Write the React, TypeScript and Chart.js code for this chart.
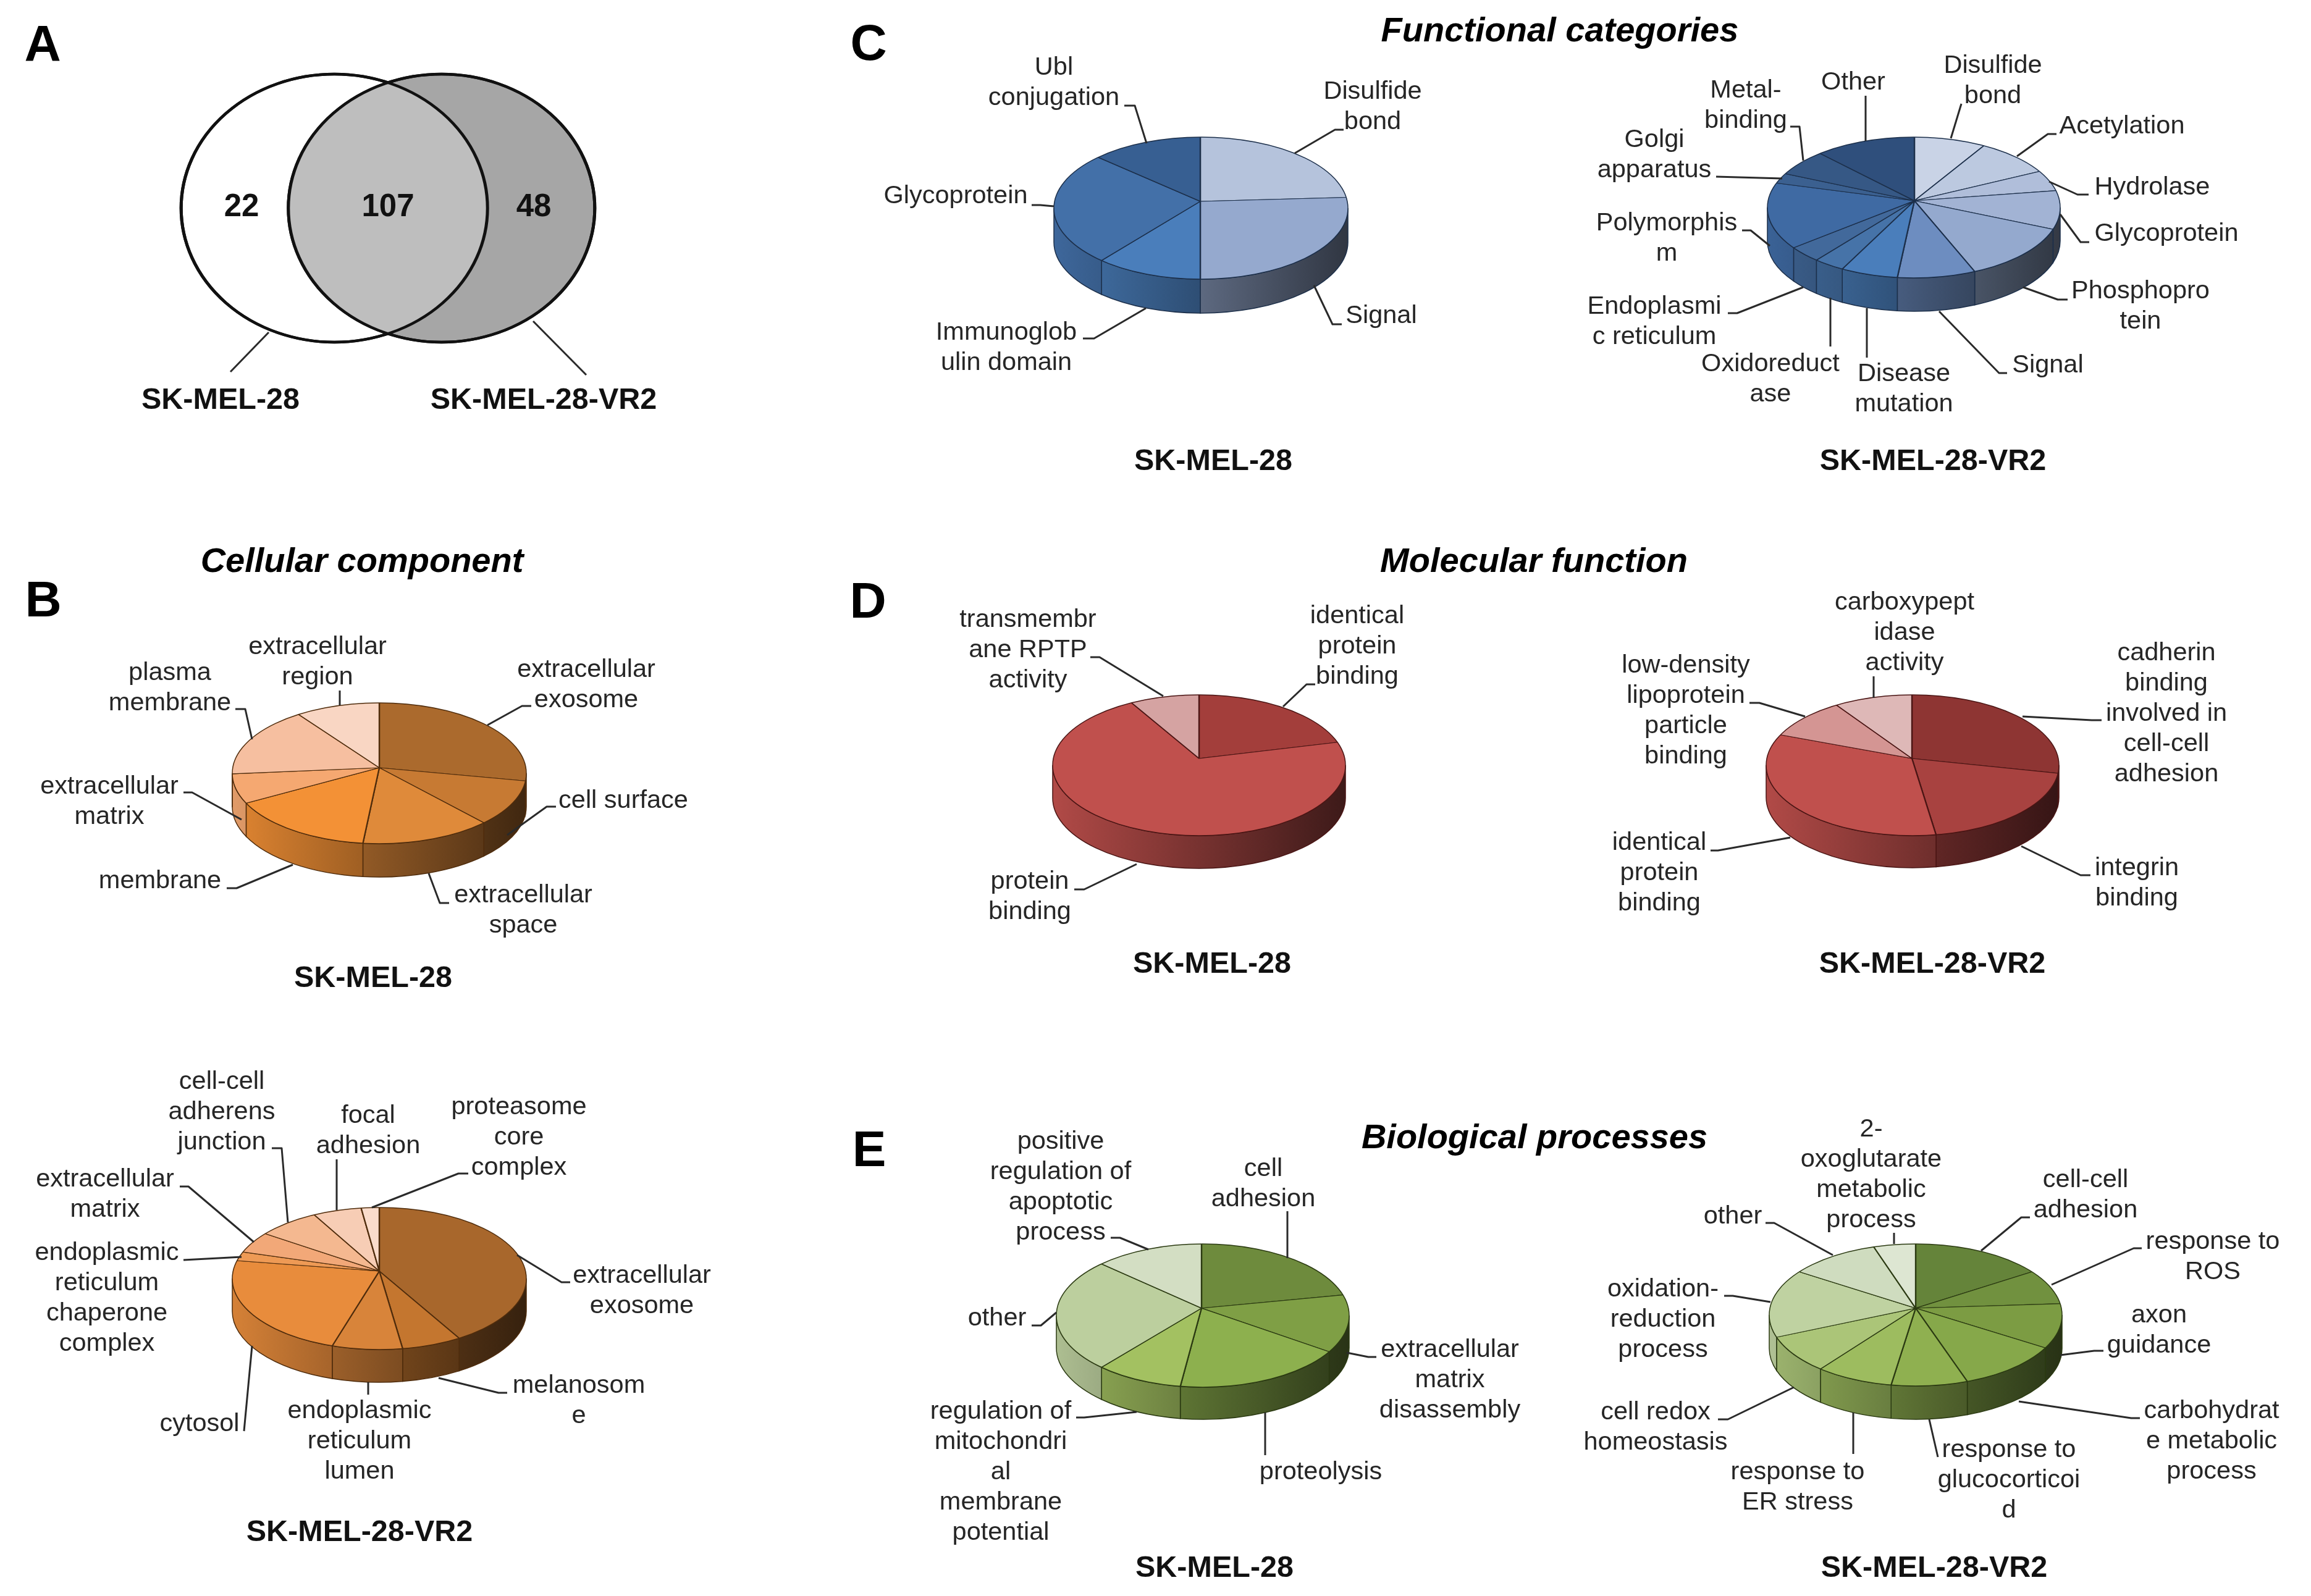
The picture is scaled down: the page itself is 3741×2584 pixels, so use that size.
import React, { useEffect, useRef } from "react";
import { Chart, registerables } from "chart.js";

Chart.register(...registerables);

/* ---------- data ---------- */
const vennCounts = ["22", "107", "48"];
const vennSets = ["SK-MEL-28", "SK-MEL-28-VR2"];

const ccParentLabels = ["extracellular\nexosome", "cell surface", "extracellular\nspace", "membrane", "extracellular\nmatrix", "plasma\nmembrane", "extracellular\nregion"];
const ccParentValues = [28.0, 10.3, 13.4, 15.3, 6.7, 16.4, 10.0];

const ccResistantLabels = ["extracellular\nexosome", "melanosom\ne", "endoplasmic\nreticulum\nlumen", "cytosol", "endoplasmic\nreticulum\nchaperone\ncomplex", "extracellular\nmatrix", "cell-cell\nadherens\njunction", "focal\nadhesion", "proteasome\ncore\ncomplex"];
const ccResistantValues = [41.7, 6.0, 7.0, 22.7, 2.1, 5.0, 7.4, 5.9, 2.2];

const fcParentLabels = ["Disulfide\nbond", "Signal", "Immunoglob\nulin domain", "Glycoprotein", "Ubl\nconjugation"];
const fcParentValues = [24.1, 25.9, 10.8, 25.8, 13.4];

const fcResistantLabels = ["Disulfide\nbond", "Acetylation", "Hydrolase", "Glycoprotein", "Phosphopro\ntein", "Signal", "Disease\nmutation", "Oxidoreduct\nase", "Endoplasmi\nc reticulum", "Polymorphis\nm", "Golgi\napparatus", "Metal-\nbinding", "Other"];
const fcResistantValues = [8.7, 9.1, 4.9, 8.8, 12.4, 7.9, 5.8, 3.2, 3.5, 15.0, 2.4, 6.3, 12.2];

const mfParentLabels = ["identical\nprotein\nbinding", "protein\nbinding", "transmembr\nane RPTP\nactivity"];
const mfParentValues = [21.2, 70.4, 8.4];

const mfResistantLabels = ["cadherin\nbinding\ninvolved in\ncell-cell\nadhesion", "integrin\nbinding", "identical\nprotein\nbinding", "low-density\nlipoprotein\nparticle\nbinding", "carboxypept\nidase\nactivity"];
const mfResistantValues = [28.3, 19.3, 33.1, 9.8, 9.5];

const bpParentLabels = ["cell\nadhesion", "extracellular\nmatrix\ndisassembly", "proteolysis", "regulation of\nmitochondri\nal\nmembrane\npotential", "other", "positive\nregulation of\napoptotic\nprocess"];
const bpParentValues = [22.0, 12.7, 17.4, 8.9, 25.7, 13.3];

const bpResistantLabels = ["cell-cell\nadhesion", "response to\nROS", "axon\nguidance", "carbohydrat\ne metabolic\nprocess", "response to\nglucocorticoi\nd", "response to\nER stress", "cell redox\nhomeostasis", "oxidation-\nreduction\nprocess", "other", "2-\noxoglutarate\nmetabolic\nprocess"];
const bpResistantValues = [15.9, 8.1, 10.0, 10.8, 7.7, 7.9, 8.2, 15.6, 10.8, 5.1];

/* ---------- styles and layout ---------- */
const FONT = '"Liberation Sans", Arial, sans-serif';
const LABEL_PX = 41.5;
const LINE_GAP = 49;
const TEXT_COLOR = "#262626";
const LEADER = "#2a2a2a";

type Pt = [number, number];
type Geometry = { cx: number; cy: number; rx: number; ry: number; ax: number; ay: number; depth: number };
type PieSpec = {
  geo: Geometry;
  labels: string[];
  values: number[];
  colors: string[];
  edge: string;
  anchors: Pt[];
  leaders: Pt[][];
};

const PIES: PieSpec[] = [
  {
    geo: { cx: 614, cy: 1252, rx: 238, ry: 114, ax: 614, ay: 1243, depth: 54 },
    labels: ccParentLabels,
    values: ccParentValues,
    colors: ["#AB6A2D", "#C77A33", "#DF8A3A", "#F39136", "#F5A871", "#F6BFA0", "#F9D6C3"],
    edge: "#4f2c0c",
    anchors: [[949, 1082], [1009, 1294], [847, 1447], [259, 1424], [177, 1271], [275, 1087], [514, 1045]],
    leaders: [
      [[789, 1174], [845, 1143], [860, 1143]],
      [[821, 1352], [885, 1306], [900, 1306]],
      [[694, 1414], [712, 1462], [727, 1462]],
      [[474, 1400], [383, 1438], [367, 1438]],
      [[391, 1327], [311, 1283], [297, 1283]],
      [[408, 1197], [397, 1148], [381, 1148]],
      [[550, 1142], [550, 1118]],
    ],
  },
  {
    geo: { cx: 614, cy: 2070, rx: 238, ry: 115, ax: 614, ay: 2058, depth: 53 },
    labels: ccResistantLabels,
    values: ccResistantValues,
    colors: ["#A8672C", "#C4762F", "#D8843A", "#E88C3C", "#EE9A55", "#F2A878", "#F4B890", "#F7CDB5", "#FADCCB"],
    edge: "#4f2c0c",
    anchors: [[1039, 2063], [937, 2241], [582, 2282], [323, 2303], [173, 2026], [170, 1907], [359, 1749], [596, 1804], [840, 1790]],
    leaders: [
      [[837, 2032], [909, 2076], [923, 2076]],
      [[710, 2231], [807, 2255], [821, 2255]],
      [[596, 2238], [596, 2258]],
      [[408, 2179], [395, 2317]],
      [[391, 2035], [297, 2040]],
      [[411, 2011], [305, 1921], [291, 1921]],
      [[466, 1979], [456, 1859], [440, 1859]],
      [[545, 1959], [545, 1877]],
      [[602, 1955], [742, 1900], [758, 1900]],
    ],
  },
  {
    geo: { cx: 1944, cy: 337, rx: 238, ry: 115, ax: 1943, ay: 326, depth: 55 },
    labels: fcParentLabels,
    values: fcParentValues,
    colors: ["#B5C3DC", "#95A9CE", "#4A7EBB", "#4370A8", "#375F92"],
    edge: "#1c2f4a",
    anchors: [[2222, 146], [2236, 509], [1629, 536], [1547, 315], [1706, 107]],
    leaders: [
      [[2096, 248], [2161, 210], [2175, 210]],
      [[2127, 462], [2157, 525], [2172, 525]],
      [[1855, 499], [1771, 548], [1753, 548]],
      [[1706, 334], [1684, 332], [1670, 332]],
      [[1856, 232], [1837, 171], [1820, 171]],
    ],
  },
  {
    geo: { cx: 3098, cy: 336, rx: 237, ry: 114, ax: 3099, ay: 325, depth: 54 },
    labels: fcResistantLabels,
    values: fcResistantValues,
    colors: ["#C9D3E6", "#BCC9E0", "#B0BEDA", "#A2B3D4", "#94A9CE", "#6D8DC0", "#4A7EBB", "#4673A8", "#42699B", "#3F6AA3", "#3B6090", "#365885", "#2F4F7C"],
    edge: "#1c2f4a",
    anchors: [[3226, 104], [3435, 202], [3484, 301], [3507, 376], [3465, 469], [3315, 589], [3082, 603], [2866, 587], [2678, 494], [2698, 359], [2678, 224], [2826, 144], [3000, 131]],
    leaders: [
      [[3158, 224], [3175, 168]],
      [[3265, 253], [3315, 217], [3329, 217]],
      [[3317, 294], [3363, 315], [3381, 315]],
      [[3335, 347], [3368, 392], [3382, 392]],
      [[3275, 465], [3331, 485], [3347, 485]],
      [[3139, 504], [3236, 604], [3249, 604]],
      [[3022, 499], [3022, 579]],
      [[2963, 482], [2963, 561]],
      [[2919, 465], [2812, 507], [2797, 507]],
      [[2865, 398], [2834, 373], [2820, 373]],
      [[2885, 289], [2778, 286]],
      [[2919, 260], [2913, 205], [2898, 205]],
      [[3020, 228], [3020, 155]],
    ],
  },
  {
    geo: { cx: 1941, cy: 1239, rx: 237, ry: 114, ax: 1941, ay: 1228, depth: 53 },
    labels: mfParentLabels,
    values: mfParentValues,
    colors: ["#A33E3B", "#C0504D", "#D5A3A2"],
    edge: "#4a1514",
    anchors: [[2197, 995], [1667, 1425], [1664, 1001]],
    leaders: [
      [[2077, 1144], [2115, 1108], [2129, 1108]],
      [[1840, 1399], [1755, 1440], [1739, 1440]],
      [[1883, 1127], [1780, 1064], [1765, 1064]],
    ],
  },
  {
    geo: { cx: 3096, cy: 1239, rx: 237, ry: 114, ax: 3095, ay: 1228, depth: 52 },
    labels: mfResistantLabels,
    values: mfResistantValues,
    colors: ["#8E3533", "#A84240", "#C0504D", "#D49593", "#DEB8B7"],
    edge: "#4a1514",
    anchors: [[3507, 1055], [3459, 1403], [2686, 1362], [2729, 1075], [3083, 973]],
    leaders: [
      [[3274, 1160], [3386, 1166], [3402, 1166]],
      [[3272, 1370], [3368, 1417], [3384, 1417]],
      [[2898, 1356], [2781, 1377], [2769, 1377]],
      [[2922, 1160], [2848, 1138], [2832, 1138]],
      [[3033, 1130], [3033, 1095]],
    ],
  },
  {
    geo: { cx: 1947, cy: 2130, rx: 237, ry: 116, ax: 1945, ay: 2118, depth: 52 },
    labels: bpParentLabels,
    values: bpParentValues,
    colors: ["#6E8B3D", "#7F9F45", "#8DB04E", "#A3C161", "#BCCF9E", "#D3DEC3"],
    edge: "#2b3a12",
    anchors: [[2045, 1890], [2347, 2183], [2138, 2381], [1620, 2283], [1614, 2132], [1717, 1846]],
    leaders: [
      [[2084, 2037], [2084, 1961]],
      [[2180, 2190], [2215, 2197], [2228, 2197]],
      [[2048, 2287], [2048, 2356]],
      [[1840, 2286], [1755, 2295], [1742, 2295]],
      [[1710, 2125], [1685, 2146], [1670, 2146]],
      [[1859, 2023], [1813, 2004], [1798, 2004]],
    ],
  },
  {
    geo: { cx: 3101, cy: 2129, rx: 237, ry: 115, ax: 3101, ay: 2118, depth: 54 },
    labels: bpResistantLabels,
    values: bpResistantValues,
    colors: ["#65843A", "#71913F", "#7C9C43", "#86A84A", "#8FB050", "#9DBC5F", "#ABC578", "#BFD2A1", "#CFDCBF", "#DDE6D2"],
    edge: "#2b3a12",
    anchors: [[3376, 1908], [3582, 2008], [3495, 2127], [3580, 2282], [3252, 2345], [2910, 2381], [2680, 2284], [2692, 2085], [2805, 1967], [3029, 1826]],
    leaders: [
      [[3207, 2025], [3272, 1971], [3286, 1971]],
      [[3321, 2080], [3454, 2021], [3467, 2021]],
      [[3335, 2194], [3390, 2187], [3405, 2187]],
      [[3268, 2269], [3450, 2296], [3464, 2296]],
      [[3123, 2298], [3137, 2359]],
      [[3000, 2287], [3000, 2354]],
      [[2904, 2246], [2797, 2298], [2781, 2298]],
      [[2866, 2108], [2805, 2098], [2791, 2098]],
      [[2967, 2032], [2872, 1980], [2858, 1980]],
      [[3066, 2014], [3066, 1996]],
    ],
  },
];

const PANEL_LETTERS: [string, number, number][] = [
  ["A", 69, 70], ["B", 70, 970], ["C", 1406, 69], ["D", 1405, 972], ["E", 1407, 1860],
];
const TITLES: [string, number, number][] = [
  ["Cellular component", 586, 907],
  ["Functional categories", 2525, 48],
  ["Molecular function", 2483, 907],
  ["Biological processes", 2484, 1840],
];
const SUBTITLES: [string, number, number][] = [
  [vennSets[0], 357, 645], [vennSets[1], 880, 645],
  [vennSets[0], 604, 1581], [vennSets[1], 582, 2478],
  [vennSets[0], 1964, 744], [vennSets[1], 3129, 744],
  [vennSets[0], 1962, 1558], [vennSets[1], 3128, 1558],
  [vennSets[0], 1966, 2536], [vennSets[1], 3131, 2536],
];
const VENN_COUNT_POS: Pt[] = [[391, 332], [628, 332], [864, 332]];

// Venn canvas frame
const VENN_BOX = { left: 250, top: 0, width: 800, height: 674 };
const vennX = [0.364, 0.581];
const vennY = [0.5, 0.5];
const vennR = [248, 248];
const VENN_SQUASH = 217 / 248;
const vennLeaders: Pt[][] = [[[435, 538], [373, 602]], [[863, 520], [949, 607]]];

/* ---------- helpers ---------- */
function shade(hex: string, f: number) {
  const n = parseInt(hex.slice(1), 16);
  const c = [(n >> 16) & 255, (n >> 8) & 255, n & 255].map((v) => Math.round(v * f));
  return `rgb(${c[0]},${c[1]},${c[2]})`;
}

function strokeLeaders(ctx: CanvasRenderingContext2D, leaders: Pt[][], left: number, top: number) {
  ctx.save();
  ctx.strokeStyle = LEADER;
  ctx.lineWidth = 3;
  ctx.lineJoin = "round";
  leaders.forEach((line) => {
    ctx.beginPath();
    line.forEach(([x, y], i) => (i ? ctx.lineTo(x - left, y - top) : ctx.moveTo(x - left, y - top)));
    ctx.stroke();
  });
  ctx.restore();
}

const BOX_W = 1100;
const BOX_H = 900;

function Pie3D({ spec }: { spec: PieSpec }) {
  const ref = useRef<HTMLCanvasElement>(null);
  const left = spec.geo.ax - BOX_W / 2;
  const top = spec.geo.ay - BOX_H / 2;
  useEffect(() => {
    const g = spec.geo;
    const cx = g.cx - left;
    const cy = g.cy - top;
    const ax = g.ax - left;
    const ay = g.ay - top;
    const k = g.ry / g.rx;

    const rimParam = (angle: number) => {
      const dx = Math.cos(angle);
      const dy = k * Math.sin(angle);
      const ox = (ax - cx) / g.rx;
      const oy = (ay - cy) / g.ry;
      const px = dx / g.rx;
      const py = dy / g.ry;
      const A = px * px + py * py;
      const B = 2 * (ox * px + oy * py);
      const C = ox * ox + oy * oy - 1;
      const t = (-B + Math.sqrt(B * B - 4 * A * C)) / (2 * A);
      return Math.atan2(oy + t * py, ox + t * px);
    };

    const plugin = {
      id: "pie3d",
      beforeDatasetsDraw(chart: any) {
        const ctx: CanvasRenderingContext2D = chart.ctx;
        const arcs = chart.getDatasetMeta(0).data;
        arcs.forEach((arc: any, i: number) => {
          let t1 = rimParam(arc.startAngle);
          let t2 = rimParam(arc.endAngle);
          if (t1 < 0) t1 += Math.PI * 2;
          while (t2 <= t1) t2 += Math.PI * 2;
          [[0, Math.PI], [Math.PI * 2, Math.PI * 3]].forEach(([lo, hi]) => {
            const a = Math.max(t1, lo);
            const b = Math.min(t2, hi);
            if (b <= a) return;
            const xa = cx + g.rx * Math.cos(a);
            const xb = cx + g.rx * Math.cos(b);
            const grad = ctx.createLinearGradient(xb, 0, xa, 0);
            const base = spec.colors[i];
            const fShade = (x: number) => 0.62 - 0.3 * ((x - cx) / g.rx);
            grad.addColorStop(0, shade(base, fShade(xb)));
            grad.addColorStop(1, shade(base, fShade(xa)));
            ctx.beginPath();
            ctx.ellipse(cx, cy, g.rx, g.ry, 0, a, b);
            ctx.ellipse(cx, cy + g.depth, g.rx, g.ry, 0, b, a, true);
            ctx.closePath();
            ctx.fillStyle = grad;
            ctx.fill();
            ctx.strokeStyle = spec.edge;
            ctx.lineWidth = 1.5;
            ctx.stroke();
          });
        });
      },
      beforeDatasetDraw(chart: any) {
        const ctx: CanvasRenderingContext2D = chart.ctx;
        const arc = chart.getDatasetMeta(0).data[0];
        ctx.save();
        ctx.beginPath();
        ctx.ellipse(cx, cy, g.rx, g.ry, 0, 0, Math.PI * 2);
        ctx.clip();
        const s = (g.rx * 1.25) / arc.outerRadius;
        ctx.translate(ax, ay);
        ctx.scale(s, s * k);
        ctx.translate(-arc.x, -arc.y);
      },
      afterDatasetDraw(chart: any) {
        chart.ctx.restore();
      },
      afterDatasetsDraw(chart: any) {
        const ctx: CanvasRenderingContext2D = chart.ctx;
        ctx.beginPath();
        ctx.ellipse(cx, cy, g.rx, g.ry, 0, 0, Math.PI * 2);
        ctx.strokeStyle = spec.edge;
        ctx.lineWidth = 1.5;
        ctx.stroke();
        strokeLeaders(ctx, spec.leaders, left, top);
      },
    };

    const chart = new Chart(ref.current as HTMLCanvasElement, {
      type: "pie",
      data: {
        labels: spec.labels.map((l) => l.replace(/\n/g, " ")),
        datasets: [
          {
            data: spec.values,
            backgroundColor: spec.colors,
            borderColor: spec.edge,
            borderWidth: 3.5,
          },
        ],
      },
      options: {
        responsive: false,
        animation: false,
        devicePixelRatio: 1,
        maintainAspectRatio: false,
        layout: { padding: 0 },
        plugins: { legend: { display: false }, tooltip: { enabled: false } },
      } as any,
      plugins: [plugin as any],
    });
    return () => chart.destroy();
  }, []);
  return <canvas ref={ref} width={BOX_W} height={BOX_H} style={{ position: "absolute", left, top, width: BOX_W, height: BOX_H }} />;
}

function Venn() {
  const ref = useRef<HTMLCanvasElement>(null);
  useEffect(() => {
    const plugin = {
      id: "venn",
      beforeDatasetsDraw(chart: any) {
        const ctx: CanvasRenderingContext2D = chart.ctx;
        const p = chart.getDatasetMeta(0).data[0];
        ctx.save();
        ctx.translate(0, p.y);
        ctx.scale(1, VENN_SQUASH);
        ctx.translate(0, -p.y);
      },
      afterDatasetsDraw(chart: any) {
        const ctx: CanvasRenderingContext2D = chart.ctx;
        const meta = chart.getDatasetMeta(0).data;
        const [a, b] = meta;
        const circle = (p: any) => {
          ctx.beginPath();
          ctx.arc(p.x, p.y, p.options.radius, 0, Math.PI * 2);
        };
        ctx.save();
        circle(a);
        ctx.clip();
        circle(b);
        ctx.fillStyle = "#BEBEBE";
        ctx.fill();
        ctx.restore();
        ctx.strokeStyle = "#111111";
        ctx.lineWidth = 5;
        circle(a);
        ctx.stroke();
        circle(b);
        ctx.stroke();
        ctx.restore();
        strokeLeaders(ctx, vennLeaders, VENN_BOX.left, VENN_BOX.top);
      },
    };
    const chart = new Chart(ref.current as HTMLCanvasElement, {
      type: "bubble",
      data: {
        labels: vennSets,
        datasets: [
          {
            data: vennX.map((x, i) => ({ x, y: vennY[i], r: vennR[i] })),
            backgroundColor: ["#FFFFFF", "#A6A6A6"],
            borderColor: "#111111",
            borderWidth: 5,
            clip: false,
          },
        ],
      },
      options: {
        responsive: false,
        animation: false,
        devicePixelRatio: 1,
        maintainAspectRatio: false,
        layout: { padding: 0, autoPadding: false },
        scales: {
          x: { type: "linear", min: 0, max: 1, display: false },
          y: { type: "linear", min: 0, max: 1, display: false },
        },
        plugins: { legend: { display: false }, tooltip: { enabled: false } },
      } as any,
      plugins: [plugin as any],
    });
    return () => chart.destroy();
  }, []);
  return (
    <canvas
      ref={ref}
      width={VENN_BOX.width}
      height={VENN_BOX.height}
      style={{ position: "absolute", left: VENN_BOX.left, top: VENN_BOX.top, width: VENN_BOX.width, height: VENN_BOX.height }}
    />
  );
}

function Txt({ x, y, text, size, weight, italic, color }: { x: number; y: number; text: string; size: number; weight?: number; italic?: boolean; color?: string }) {
  return (
    <div
      style={{
        position: "absolute",
        left: x,
        top: y,
        transform: "translate(-50%, -50%)",
        font: `${italic ? "italic " : ""}${weight || 400} ${size}px ${FONT}`,
        lineHeight: 1,
        color: color || "#000",
        whiteSpace: "nowrap",
      }}
    >
      {text}
    </div>
  );
}

export default function App() {
  return (
    <div style={{ position: "fixed", left: 0, top: 0, width: 3741, height: 2584, background: "#fff", overflow: "hidden" }}>
      <Venn />
      {PIES.map((spec, i) => (
        <Pie3D key={i} spec={spec} />
      ))}
      {PIES.map((spec, i) =>
        spec.labels.map((label, j) =>
          label.split("\n").map((line, n) => (
            <Txt key={`${i}-${j}-${n}`} x={spec.anchors[j][0]} y={spec.anchors[j][1] + n * LINE_GAP} text={line} size={LABEL_PX} color={TEXT_COLOR} />
          ))
        )
      )}
      {vennCounts.map((c, i) => (
        <Txt key={`c${i}`} x={VENN_COUNT_POS[i][0]} y={VENN_COUNT_POS[i][1]} text={c} size={51} weight={700} color="#111" />
      ))}
      {PANEL_LETTERS.map(([t, x, y]) => (
        <Txt key={t} x={x} y={y} text={t} size={82} weight={700} />
      ))}
      {TITLES.map(([t, x, y]) => (
        <Txt key={t} x={x} y={y} text={t} size={56} weight={700} italic />
      ))}
      {SUBTITLES.map(([t, x, y], i) => (
        <Txt key={`s${i}`} x={x} y={y} text={t} size={48.5} weight={700} color="#111" />
      ))}
    </div>
  );
}
